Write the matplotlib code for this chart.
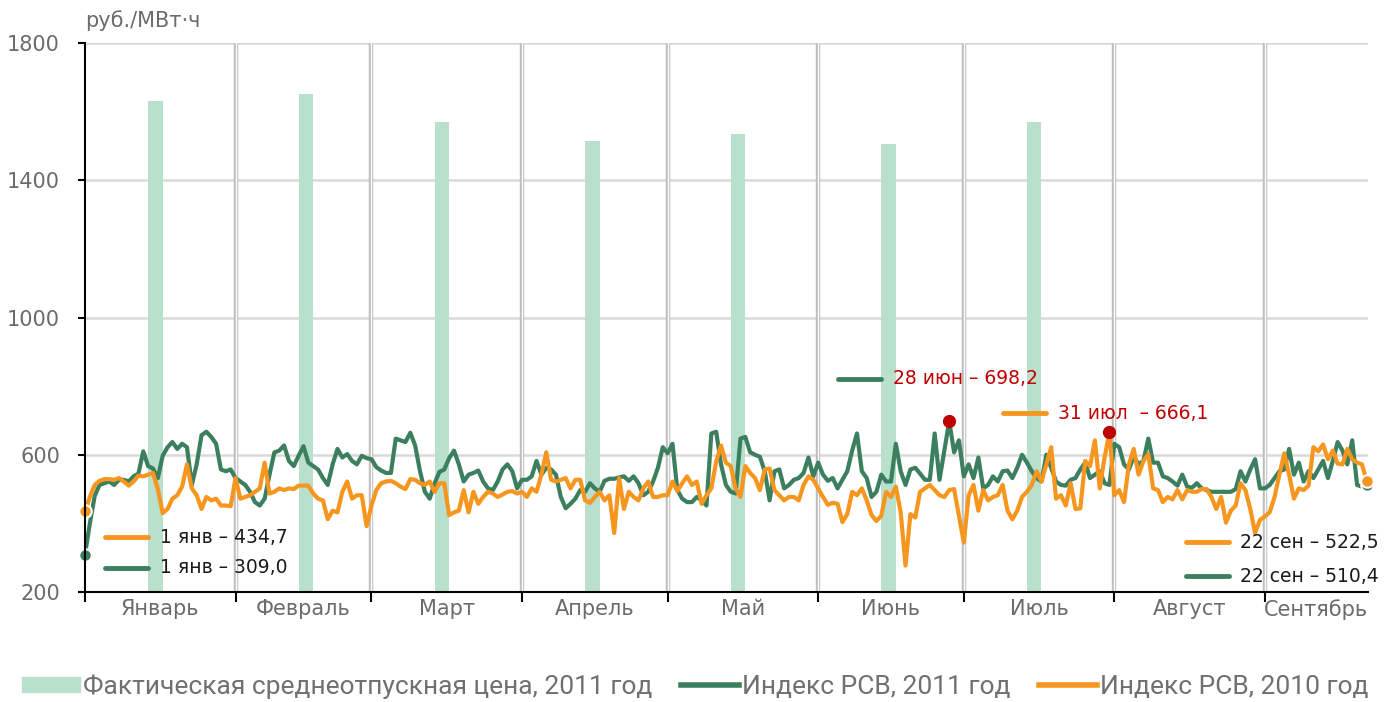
import numpy as np
import pandas as pd
import matplotlib
matplotlib.use("Agg")
import matplotlib.pyplot as plt
from matplotlib.lines import Line2D
from matplotlib.patches import Patch

# monthly labels and the average realised price (bars), 2011
months = ["Январь", "Февраль", "Март", "Апрель", "Май", "Июнь", "Июль", "Август", "Сентябрь"]
month_abbr = ["янв", "фев", "мар", "апр", "май", "июн", "июл", "авг", "сен"]
fact_price_2011 = [1630, 1650, 1570, 1515, 1535, 1505, 1570]

# daily RSV index, 1 Jan - 22 Sep
rsv_2011 = [
    309.0, 400, 480, 512, 517, 522, 512, 527, 527, 522, 537, 545, 610, 567, 560,
    532, 597, 622, 637, 617, 632, 622, 512, 572, 657, 667, 652, 632, 557, 552,
    557, 532, 522, 512, 492, 462, 452, 472, 542, 607, 612, 627, 582, 567, 597,
    625, 577, 567, 557, 532, 512, 572, 617, 592, 602, 582, 572, 597, 590, 587,
    564, 554, 547, 547, 647, 642, 637, 664, 627, 552, 492, 472, 517, 550, 557,
    590, 612, 572, 522, 542, 547, 554, 522, 502, 497, 522, 557, 572, 552, 502,
    527, 527, 537, 582, 542, 562, 557, 542, 477, 444, 457, 472, 497, 492, 517,
    502, 492, 524, 530, 530, 534, 537, 524, 537, 517, 482, 492, 522, 562, 622,
    604, 632, 497, 472, 462, 462, 477, 467, 452, 662, 667, 572, 512, 492, 487,
    647, 652, 607, 600, 594, 552, 467, 552, 557, 502, 512, 527, 532, 547, 592,
    537, 577, 542, 524, 532, 502, 527, 552, 612, 662, 552, 532, 477, 492, 542,
    522, 522, 632, 552, 512, 557, 562, 545, 527, 527, 662, 527, 612, 698.2, 607,
    642, 537, 572, 532, 592, 502, 512, 537, 522, 552, 554, 532, 562, 600, 577,
    552, 532, 522, 600, 562, 522, 512, 510, 527, 532, 557, 577, 532, 542, 552,
    517, 512, 632, 622, 572, 557, 595, 572, 582, 647, 577, 577, 537, 532, 522,
    510, 542, 507, 504, 517, 502, 497, 492, 492, 492, 492, 492, 500, 552, 522,
    557, 587, 502, 502, 512, 532, 552, 557, 617, 542, 577, 522, 552, 532, 557,
    582, 532, 582, 637, 612, 572, 642, 512, 507, 510.4,
]
rsv_2010 = [
    434.7, 477, 512, 524, 529, 529, 527, 532, 522, 510, 522, 539, 537, 542, 547,
    500, 430, 442, 472, 482, 507, 572, 502, 482, 442, 477, 467, 472, 452, 452,
    450, 532, 472, 477, 482, 492, 502, 577, 487, 492, 502, 497, 502, 500, 510,
    510, 510, 487, 472, 467, 412, 437, 432, 492, 522, 472, 482, 482, 392, 452,
    497, 517, 522, 524, 517, 507, 500, 529, 527, 517, 512, 522, 492, 517, 517,
    424, 432, 437, 497, 432, 492, 457, 477, 492, 487, 477, 484, 492, 494, 487,
    492, 477, 502, 492, 542, 607, 527, 522, 527, 532, 502, 527, 527, 467, 460,
    477, 492, 467, 482, 372, 532, 442, 492, 477, 467, 502, 522, 477, 477, 482,
    482, 522, 494, 517, 537, 512, 522, 457, 482, 502, 580, 627, 577, 567, 502,
    477, 567, 547, 532, 497, 557, 560, 497, 482, 467, 477, 477, 467, 512, 537,
    527, 502, 477, 454, 460, 457, 404, 427, 492, 482, 502, 467, 424, 407, 422,
    492, 477, 507, 432, 277, 427, 417, 492, 502, 512, 497, 482, 477, 497, 500,
    422, 344, 482, 512, 437, 497, 467, 477, 482, 512, 437, 412, 437, 477, 492,
    512, 552, 522, 572, 622, 472, 482, 452, 517, 442, 444, 582, 567, 642, 502,
    592, 666.1, 482, 497, 462, 572, 617, 542, 582, 602, 502, 497, 462, 477, 470,
    497, 470, 497, 492, 492, 500, 500, 477, 442, 477, 402, 437, 452, 517, 497,
    442, 372, 410, 420, 432, 477, 542, 604, 542, 472, 502, 497, 510, 622, 610,
    630, 587, 612, 574, 572, 617, 587, 577, 572, 522.5,
]

GREEN = "#3b7f5e"
ORANGE = "#f7961e"
MINT = "#b8e0cd"
RED = "#c00000"
GREY = "#6b6b6b"

plt.rcParams["font.family"] = ["DejaVu Sans"]

days = pd.date_range("2011-01-01", periods=len(rsv_2011), freq="D")
month_starts = pd.date_range("2011-01-01", "2011-09-01", freq="MS")
end = days[-1] + pd.Timedelta(hours=6)


def label(day, value):
    return f"{day.day} {month_abbr[day.month - 1]} – {value:.1f}".replace(".", ",")


fig = plt.figure(figsize=(13.96, 7.02), dpi=100)
ax = fig.add_axes([85 / 1396, 110 / 702, 1283 / 1396, 549 / 702])

# month separators: double grey lines
for m in month_starts[1:]:
    ax.axvline(m, color="#bdbdbd", lw=3.2, zorder=1)
    ax.axvline(m, color="white", lw=1.0, zorder=1)
for y in [600, 1000, 1400, 1800]:
    ax.axhline(y, color="#d9d9d9", lw=1.8, zorder=0.5)

bar_x = month_starts[:len(fact_price_2011)] + pd.Timedelta(hours=14.5 * 24)
bars = ax.bar(bar_x, np.array(fact_price_2011) - 200, bottom=200, width=3,
              color=MINT, zorder=2)
line11, = ax.plot(days, rsv_2011, color=GREEN, lw=3, zorder=3)
line10, = ax.plot(days, rsv_2010, color=ORANGE, lw=3, zorder=4)

# end points
for series, color in [(rsv_2011, GREEN), (rsv_2010, ORANGE)]:
    ax.plot([days[0], days[-1]], [series[0], series[-1]], "o", ms=9, color=color,
            mec="white", mew=1.5, zorder=6, clip_on=False)

# maxima
i11, i10 = int(np.argmax(rsv_2011)), int(np.argmax(rsv_2010))
ax.plot([days[i11], days[i10]], [rsv_2011[i11], rsv_2010[i10]], "o", ms=8.5,
        color=RED, zorder=7)

# annotation keys (axes fraction)
notes = [
    (0.100, ORANGE, label(days[0], rsv_2010[0]), "#1a1a1a", 0.0156),
    (0.044, GREEN, label(days[0], rsv_2011[0]), "#1a1a1a", 0.0156),
    (0.388, GREEN, label(days[i11], rsv_2011[i11]), RED, 0.587),
    (0.326, ORANGE, label(days[i10], rsv_2010[i10]).replace(" –", "  –"), RED, 0.7155),
    (0.091, ORANGE, label(days[-1], rsv_2010[-1]), "#1a1a1a", 0.858),
    (0.029, GREEN, label(days[-1], rsv_2011[-1]), "#1a1a1a", 0.858),
]
for y, lc, text, tc, x0 in notes:
    ax.add_line(Line2D([x0, x0 + 0.0335], [y, y], color=lc, lw=3.5,
                       solid_capstyle="round", transform=ax.transAxes, zorder=8))
    ax.text(x0 + 0.0425, y, text, color=tc, fontsize=13.5, va="center",
            transform=ax.transAxes, zorder=8)

ax.set_ylim(200, 1800)
ax.set_yticks([200, 600, 1000, 1400, 1800])
ax.set_xlim(days[0], end)

# month boundaries as major ticks, names centred between them
ax.set_xticks(month_starts)
ax.xaxis.set_major_formatter(plt.NullFormatter())
bounds = list(month_starts) + [end]
centres = [bounds[i] + (bounds[i + 1] - bounds[i]) / 2 for i in range(len(months))]
ax.set_xticks(centres, minor=True)
ax.set_xticklabels(months, minor=True)
ax.tick_params(axis="x", which="major", length=7, width=1.5, color="black")
ax.tick_params(axis="x", which="minor", length=0, pad=5, labelsize=15, labelcolor=GREY)
ax.tick_params(axis="y", length=5, width=1.5, color="black", pad=13,
               labelsize=15, labelcolor=GREY)

for side in ["top", "right"]:
    ax.spines[side].set_visible(False)
for side in ["left", "bottom"]:
    ax.spines[side].set_linewidth(1.5)
    ax.spines[side].set_color("black")
    ax.spines[side].set_zorder(9)

ax.text(0.0, 1.040, "руб./МВт·ч", transform=ax.transAxes, fontsize=15,
        color=GREY, va="center", ha="left")

handles = [Patch(color=MINT), Line2D([], [], color=GREEN, lw=4),
           Line2D([], [], color=ORANGE, lw=4)]
labels = ["Фактическая среднеотпускная цена, 2011 год",
          "Индекс РСВ, 2011 год", "Индекс РСВ, 2010 год"]
fig.legend(handles, labels, loc="center", bbox_to_anchor=(0.498, 0.022), ncol=3,
           frameon=False, prop={"family": ["Roboto", "DejaVu Sans"], "size": 19},
           labelcolor="#707070", handlelength=2.2, handleheight=0.55,
           handletextpad=0.1, columnspacing=1.1)

fig.savefig("out.png", dpi=100)
